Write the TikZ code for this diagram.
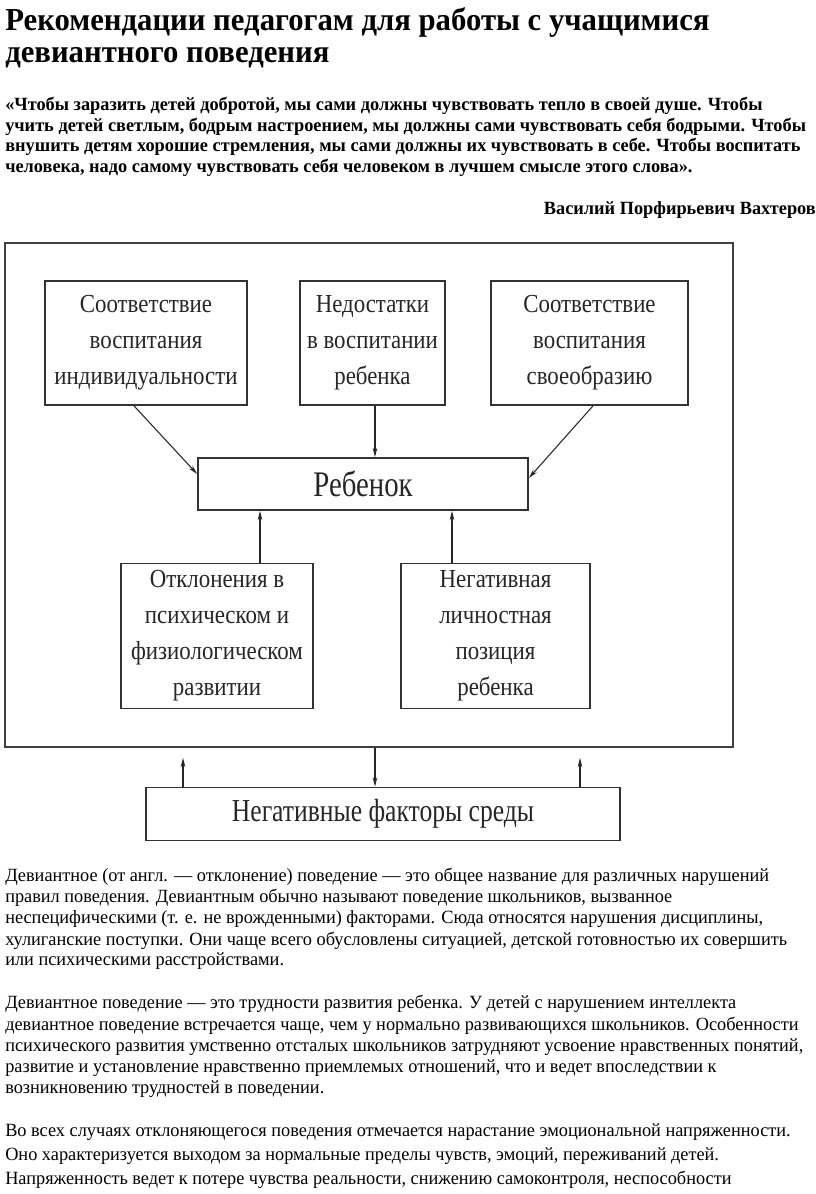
\documentclass[tikz,border=0pt]{standalone}
\usepackage{fontspec}
\setmainfont{Liberation Serif}
\newfontfamily\hdfont[FakeStretch=0.96]{Liberation Serif}
\newfontfamily\qfont[FakeStretch=0.98]{Liberation Serif}
\newfontfamily\bdfont[FakeStretch=0.98]{Liberation Serif}
\newfontfamily\bxfont[FakeStretch=0.88]{Liberation Serif}
\newfontfamily\bigbxfont[FakeStretch=0.8]{Liberation Serif}
\usetikzlibrary{arrows.meta}
\begin{document}
\begin{tikzpicture}[x=0.75pt,y=-0.75pt,
  line/.style={anchor=base west,inner sep=0pt},
  ttl/.style={line,font=\hdfont\bfseries\fontsize{24}{28}\selectfont},
  qt/.style={line,font=\qfont\bfseries\fontsize{14}{16}\selectfont},
  bd/.style={line,font=\bdfont\fontsize{14}{16}\selectfont},
  box/.style={draw=black!80,line width=1.3pt,align=center,inner sep=0pt,
    font=\bxfont\fontsize{19.5}{27}\selectfont,text=black!85},
  arr/.style={draw=black!85,line width=0.8pt,-{Stealth[length=7pt,width=3.5pt]}}]
\useasboundingbox (0,0) rectangle (816,1194);
% title
\node[ttl] (t1) at (5,31) {Рекомендации педагогам для работы с учащимися};
\node[ttl] (t2) at (5,63) {девиантного поведения};
% quote
\node[qt] (q1) at (5,111) {«Чтобы заразить детей добротой, мы сами должны чувствовать тепло в своей душе. Чтобы};
\node[qt] (q2) at (5,131.5) {учить детей светлым, бодрым настроением, мы должны сами чувствовать себя бодрыми. Чтобы};
\node[qt] (q3) at (5,152) {внушить детям хорошие стремления, мы сами должны их чувствовать в себе. Чтобы воспитать};
\node[qt] (q4) at (5,172.5) {человека, надо самому чувствовать себя человеком в лучшем смысле этого слова».};
\node[qt,anchor=base east] (au) at (816,215) {Василий Порфирьевич Вахтеров};
% diagram
\node[draw=black!75,line width=1.3pt,minimum width=728*0.75pt,minimum height=504*0.75pt,inner sep=0pt] (outer) at (369,495) {};
\node[box,minimum width=202*0.75pt,minimum height=124*0.75pt] (b1) at (146,343) {Соответствие\\воспитания\\индивидуальности};
\node[box,minimum width=145*0.75pt,minimum height=124*0.75pt] (b2) at (372.5,343) {Недостатки\\в воспитании\\ребенка};
\node[box,minimum width=197*0.75pt,minimum height=124*0.75pt] (b3) at (589.5,343) {Соответствие\\воспитания\\своеобразию};
\node[box,minimum width=330*0.75pt,minimum height=52*0.75pt,font=\bigbxfont\fontsize{27}{30}\selectfont] (reb) at (363,484) {Ребенок};
\node[box,minimum width=192*0.75pt,minimum height=145*0.75pt] (b4) at (217,636) {Отклонения в\\психическом и\\физиологическом\\развитии};
\node[box,minimum width=189*0.75pt,minimum height=145*0.75pt] (b5) at (495.5,636) {Негативная\\личностная\\позиция\\ребенка};
\node[box,minimum width=474*0.75pt,minimum height=53*0.75pt,font=\bigbxfont\fontsize{24}{28}\selectfont] (env) at (383,814) {Негативные факторы среды};
% connectors
\draw[arr] ([xshift=-12*0.75pt]b1.south) -- ([yshift=7.5pt]reb.west);
\draw[arr] ([xshift=2.5*0.75pt]b2.south) -- ([xshift=2.5*0.75pt]b2.south |- reb.north);
\draw[arr] ([xshift=3.5*0.75pt]b3.south) -- ([yshift=4.5pt]reb.east);
\draw[arr] ([xshift=43*0.75pt]b4.north) -- ([xshift=43*0.75pt]b4.north |- reb.south);
\draw[arr] ([xshift=-43.5*0.75pt]b5.north) -- ([xshift=-43.5*0.75pt]b5.north |- reb.south);
\coordinate (up1) at ([xshift=-200*0.75pt,yshift=-7.5pt]env.north |- outer.south);
\coordinate (up3) at ([xshift=197*0.75pt,yshift=-7.5pt]env.north |- outer.south);
\draw[arr] ([xshift=-200*0.75pt]env.north) -- (up1);
\draw[arr] ([xshift=-8*0.75pt]env.north |- outer.south) -- ([xshift=-8*0.75pt]env.north);
\draw[arr] ([xshift=197*0.75pt]env.north) -- (up3);
% body text
\node[bd] (p1) at (5,881) {Девиантное (от англ. — отклонение) поведение — это общее название для различных нарушений};
\node[bd] (p2) at (5,902) {правил поведения. Девиантным обычно называют поведение школьников, вызванное};
\node[bd] (p3) at (5,923) {неспецифическими (т. е. не врожденными) факторами. Сюда относятся нарушения дисциплины,};
\node[bd] (p4) at (5,945) {хулиганские поступки. Они чаще всего обусловлены ситуацией, детской готовностью их совершить};
\node[bd] (p5) at (5,965) {или психическими расстройствами.};
\node[bd] (r1) at (5,1008) {Девиантное поведение — это трудности развития ребенка. У детей с нарушением интеллекта};
\node[bd] (r2) at (5,1030) {девиантное поведение встречается чаще, чем у нормально развивающихся школьников. Особенности};
\node[bd] (r3) at (5,1051) {психического развития умственно отсталых школьников затрудняют усвоение нравственных понятий,};
\node[bd] (r4) at (5,1072) {развитие и установление нравственно приемлемых отношений, что и ведет впоследствии к};
\node[bd] (r5) at (5,1093) {возникновению трудностей в поведении.};
\node[bd] (s1) at (5,1136) {Во всех случаях отклоняющегося поведения отмечается нарастание эмоциональной напряженности.};
\node[bd] (s2) at (5,1160) {Оно характеризуется выходом за нормальные пределы чувств, эмоций, переживаний детей.};
\node[bd] (s3) at (5,1184) {Напряженность ведет к потере чувства реальности, снижению самоконтроля, неспособности};
\end{tikzpicture}
\end{document}
